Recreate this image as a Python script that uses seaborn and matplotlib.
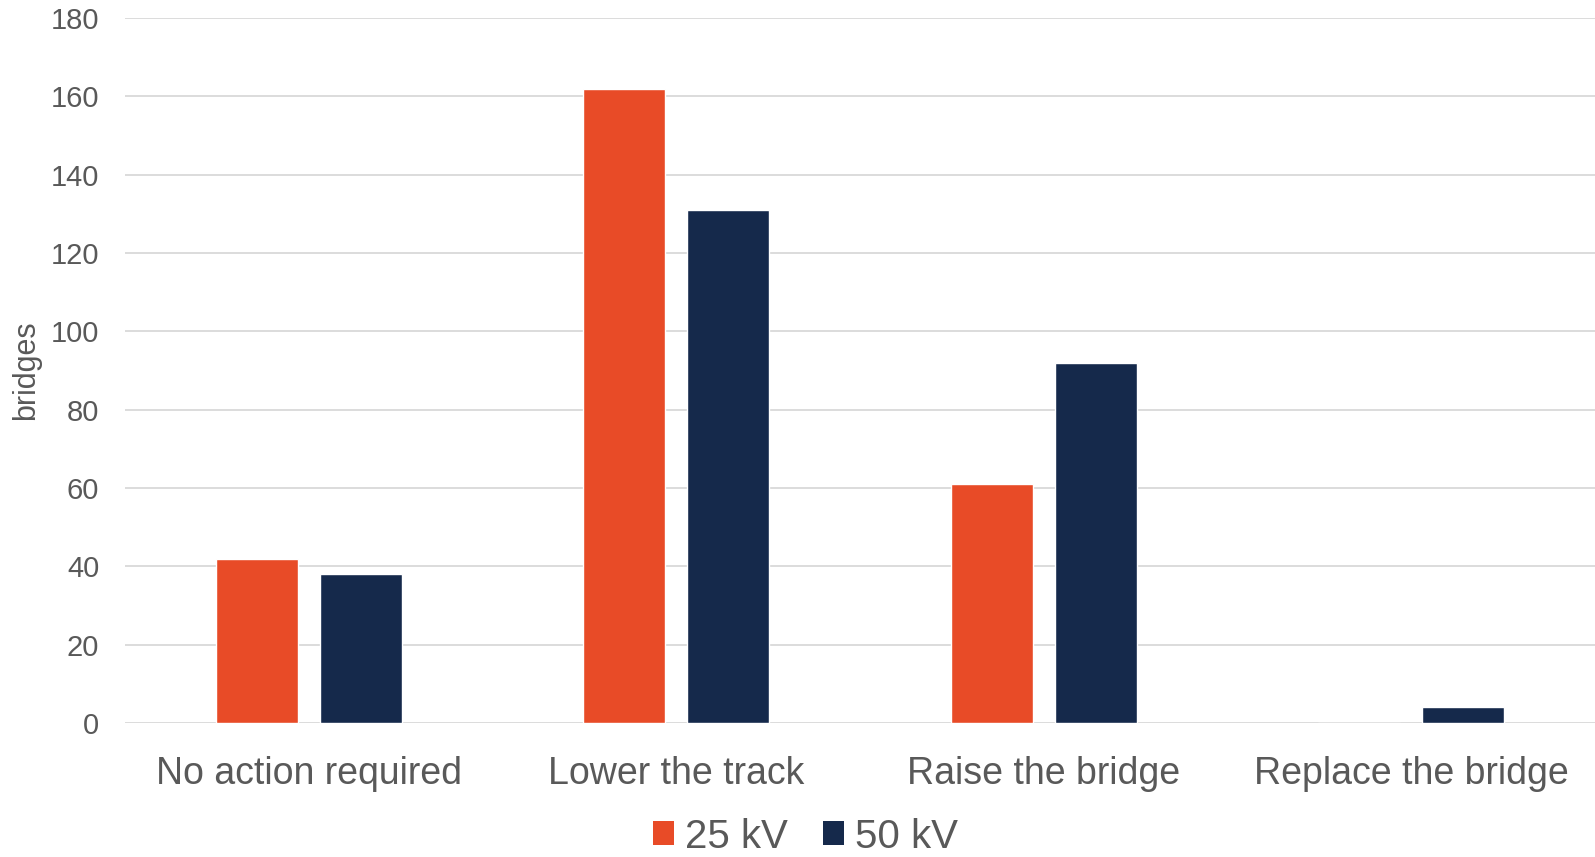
import numpy as np
import pandas as pd
import seaborn as sns
from matplotlib import pyplot as plt
from matplotlib.patches import Patch

categories = ["No action required", "Lower the track", "Raise the bridge", "Replace the bridge"]
series_names = ["25 kV", "50 kV"]
values_25kv = [42, 162, 61, 0]
values_50kv = [38, 131, 92, 4]
yticks = [0, 20, 40, 60, 80, 100, 120, 140, 160, 180]

colors = {"25 kV": "#E84B27", "50 kV": "#15294B"}
text_gray = "#595959"

df = pd.DataFrame(
    {
        "action": categories * 2,
        "voltage": [series_names[0]] * len(categories) + [series_names[1]] * len(categories),
        "bridges": values_25kv + values_50kv,
    }
)

sns.set_style("white")
plt.rcParams["font.family"] = ["Liberation Sans", "DejaVu Sans"]

fig = plt.figure(figsize=(15.95, 8.57), dpi=100)
ax = fig.add_axes([125 / 1595, 1 - 723 / 857, 1 - 125 / 1595, (723 - 18) / 857])

sns.barplot(
    data=df,
    x="action",
    y="bridges",
    hue="voltage",
    order=categories,
    hue_order=series_names,
    palette=colors,
    width=0.566,
    gap=0.21,
    saturation=1,
    errorbar=None,
    legend=False,
    ax=ax,
)

ax.set_ylim(0, 180)
ax.set_xlim(-0.5, 3.5)
ax.set_yticks(yticks)
ax.yaxis.grid(True, color="#D9D9D9", linewidth=1.3)
ax.set_axisbelow(True)
for s in ax.spines.values():
    s.set_visible(False)

ax.tick_params(axis="y", length=0, pad=18.5, labelsize=21, labelcolor=text_gray)
ax.tick_params(axis="x", length=0, pad=24, labelsize=27, labelcolor=text_gray)
ax.set_xlabel("")
ax.set_ylabel("bridges", fontsize=22, color=text_gray)
ax.yaxis.set_label_coords(-0.057, 0.5)

# legend sits right at the bottom edge, keep it just inside the canvas
handles = [Patch(facecolor=colors[n], edgecolor="none", label=n) for n in series_names]
leg = fig.legend(
    handles=handles,
    loc="lower center",
    bbox_to_anchor=(0.505, -0.022),
    ncol=2,
    frameon=False,
    fontsize=29,
    handlelength=0.54,
    handleheight=0.54,
    handletextpad=0.27,
    columnspacing=0.86,
    borderpad=0,
)
for t in leg.get_texts():
    t.set_color(text_gray)

fig.savefig("out.png", dpi=100)
